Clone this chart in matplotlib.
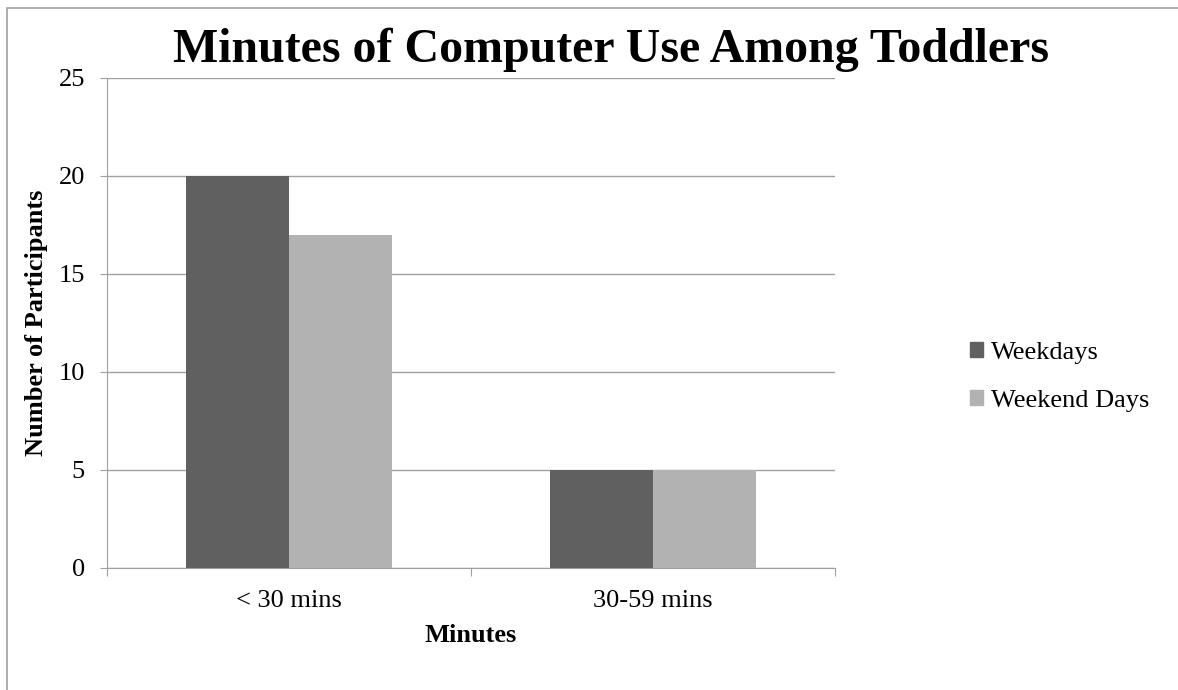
import numpy as np
import matplotlib.pyplot as plt
from matplotlib.patches import Rectangle, Patch

# data
categories = ['< 30 mins', '30-59 mins']
weekdays = [20, 5]
weekend_days = [17, 5]
series_names = ['Weekdays', 'Weekend Days']

plt.rcParams['font.family'] = 'Liberation Serif'

W, H = 1178, 690
fig = plt.figure(figsize=(W / 100, H / 100), dpi=100)
ax = fig.add_axes([107 / W, 1 - 568 / H, 728 / W, 490 / H])

x = np.arange(len(categories))
w = 0.284
dark = '#606060'
light = '#b2b2b2'
ax.bar(x - w / 2, weekdays, w, color=dark, zorder=3)
ax.bar(x + w / 2, weekend_days, w, color=light, zorder=3)

ax.set_xlim(-0.5, len(categories) - 0.5)
ax.set_ylim(0, 25)
ax.set_yticks(range(0, 26, 5))
ax.yaxis.grid(True, color='#a0a0a0', linewidth=1, zorder=0)
ax.tick_params(axis='y', labelsize=19, length=5, color='#a0a0a0', pad=11)

# category labels sit between the boundary ticks
ax.set_xticks(np.arange(len(categories) + 1) - 0.5)
ax.set_xticklabels([])
ax.set_xticks(x, minor=True)
ax.set_xticklabels(categories, minor=True, fontsize=19)
ax.tick_params(axis='x', which='major', length=6, color='#a0a0a0')
ax.tick_params(axis='x', which='minor', length=0, pad=16)

for s in ['top', 'right']:
    ax.spines[s].set_visible(False)
for s in ['left', 'bottom']:
    ax.spines[s].set_color('#a0a0a0')

fig.text((107 + 364) / W, 1 - 635 / H, 'Minutes', ha='center', va='center',
         fontsize=19, fontweight='bold')
fig.text(37 / W, 1 - 323 / H, 'Number of Participants', ha='center', va='center',
         rotation=90, fontsize=19, fontweight='bold')

fig.text(611 / W, 1 - 62 / H, 'Minutes of Computer Use Among Toddlers',
         ha='center', va='baseline', fontsize=34.5, fontweight='bold')

handles = [Patch(color=dark), Patch(color=light)]
fig.legend(handles, series_names, loc='center left',
           bbox_to_anchor=(970 / W, 1 - 377 / H), frameon=False, borderpad=0,
           borderaxespad=0, fontsize=19, handlelength=0.5, handleheight=0.5,
           handletextpad=0.3, labelspacing=1.0)

# outer chart border (only left and top edges fall inside the image)
fig.patches.append(Rectangle((7 / W, -0.1), 1.1, 1.1 - 8 / H, transform=fig.transFigure,
                             fill=False, edgecolor='#a0a0a0', linewidth=1.2))

fig.savefig('out.png', dpi=100, facecolor='white')
